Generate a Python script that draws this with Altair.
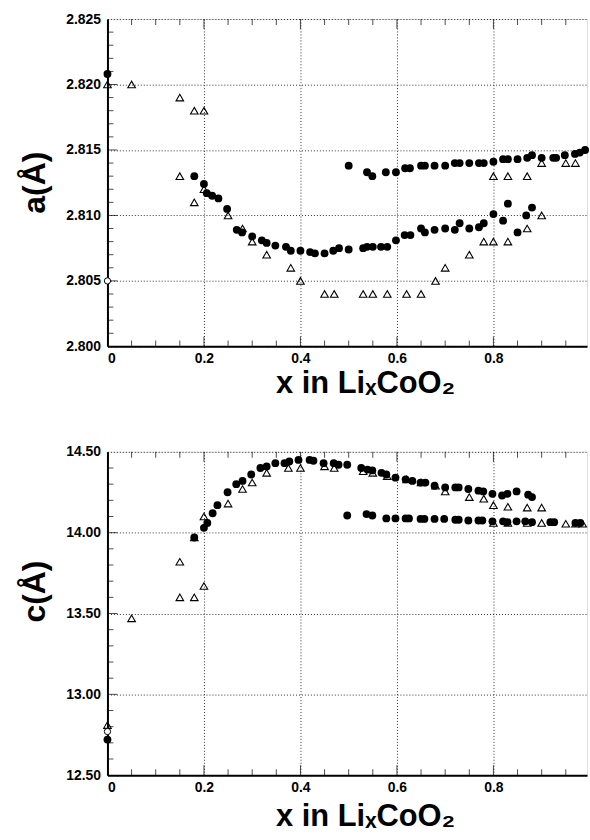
import altair as alt
import pandas as pd

# ---------------- data: a(Å) panel ----------------
a_circ_x = [0.0, 0.18, 0.20, 0.206, 0.217, 0.23, 0.248, 0.268, 0.279, 0.30, 0.32, 0.33, 0.348,
            0.37, 0.38, 0.40, 0.42, 0.43, 0.45, 0.468, 0.48, 0.50, 0.53, 0.538, 0.55, 0.567, 0.58,
            0.598, 0.616, 0.628, 0.65, 0.658, 0.678, 0.70, 0.72, 0.73, 0.75, 0.77, 0.78, 0.80,
            0.82, 0.83, 0.85, 0.868, 0.88,
            0.50, 0.538, 0.549, 0.577, 0.598, 0.617, 0.627, 0.65, 0.658, 0.678, 0.70, 0.72, 0.73,
            0.75, 0.77, 0.78, 0.80, 0.82, 0.83, 0.85, 0.87, 0.88, 0.90, 0.924, 0.93, 0.948, 0.969,
            0.979, 0.99]
a_circ_y = [2.8208, 2.8130, 2.8124, 2.8117, 2.8115, 2.8113, 2.8105, 2.8089, 2.8087, 2.8084,
            2.8081, 2.8079, 2.8077, 2.8076, 2.8073, 2.8073, 2.8072, 2.8071, 2.8071, 2.8073,
            2.8075, 2.8074, 2.8075, 2.8076, 2.8076, 2.8076, 2.8076, 2.8081, 2.8085, 2.8085,
            2.8090, 2.8087, 2.8089, 2.8090, 2.8089, 2.8094, 2.8090, 2.8091, 2.8094, 2.8101,
            2.8096, 2.8109, 2.8087, 2.8100, 2.8106,
            2.8138, 2.8133, 2.8130, 2.8133, 2.8133, 2.8136, 2.8136, 2.8138, 2.8138, 2.8138,
            2.8138, 2.8140, 2.8140, 2.8140, 2.8140, 2.8140, 2.8141, 2.8143, 2.8143, 2.8143,
            2.8144, 2.8146, 2.8144, 2.8144, 2.8144, 2.8146, 2.8147, 2.8148, 2.8150]
a_tri_x = [0.0, 0.05, 0.15, 0.18, 0.20, 0.15, 0.18, 0.20, 0.25, 0.28, 0.30, 0.33, 0.38, 0.40,
           0.45, 0.47, 0.53, 0.55, 0.58, 0.62, 0.65, 0.68, 0.70, 0.75, 0.78, 0.80, 0.83, 0.87,
           0.90, 0.80, 0.83, 0.87, 0.90, 0.95, 0.97]
a_tri_y = [2.820, 2.820, 2.819, 2.818, 2.818, 2.813, 2.811, 2.812, 2.810, 2.809, 2.808, 2.807,
           2.806, 2.805, 2.804, 2.804, 2.804, 2.804, 2.804, 2.804, 2.804, 2.805, 2.806, 2.807,
           2.808, 2.808, 2.808, 2.809, 2.810, 2.813, 2.813, 2.813, 2.814, 2.814, 2.814]
a_open_x = [0.0]
a_open_y = [2.805]

# ---------------- data: c(Å) panel ----------------
c_circ_x = [0.0, 0.18, 0.20, 0.207, 0.218, 0.228, 0.249, 0.267, 0.28, 0.298, 0.317, 0.33, 0.348,
            0.367, 0.377, 0.396, 0.419, 0.427, 0.448, 0.469, 0.479, 0.497, 0.526, 0.539, 0.549,
            0.568, 0.578, 0.597, 0.618, 0.632, 0.649, 0.659, 0.678, 0.70, 0.721, 0.728, 0.748,
            0.769, 0.779, 0.798, 0.818, 0.829, 0.848, 0.872, 0.88,
            0.497, 0.537, 0.549, 0.578, 0.597, 0.618, 0.625, 0.649, 0.657, 0.678, 0.698, 0.721,
            0.728, 0.748, 0.769, 0.777, 0.798, 0.82, 0.829, 0.848, 0.866, 0.88, 0.918, 0.926,
            0.97, 0.98]
c_circ_y = [12.72, 13.97, 14.03, 14.06, 14.12, 14.17, 14.25, 14.30, 14.32, 14.36, 14.40, 14.41,
            14.43, 14.43, 14.44, 14.45, 14.45, 14.445, 14.43, 14.43, 14.42, 14.42, 14.40, 14.39,
            14.385, 14.37, 14.36, 14.34, 14.33, 14.32, 14.31, 14.31, 14.29, 14.28, 14.28, 14.28,
            14.27, 14.26, 14.255, 14.24, 14.23, 14.24, 14.255, 14.235, 14.22,
            14.106, 14.115, 14.106, 14.088, 14.088, 14.088, 14.088, 14.085, 14.085, 14.085,
            14.085, 14.08, 14.08, 14.075, 14.075, 14.075, 14.07, 14.07, 14.065, 14.07, 14.07,
            14.065, 14.065, 14.065, 14.06, 14.06]
c_tri_x = [0.0, 0.05, 0.15, 0.15, 0.18, 0.20, 0.18, 0.20, 0.25, 0.28, 0.30, 0.33, 0.375, 0.40,
           0.45, 0.47, 0.53, 0.55, 0.58, 0.62, 0.65, 0.68, 0.70, 0.75, 0.78, 0.80, 0.83, 0.87,
           0.90, 0.80, 0.83, 0.87, 0.90, 0.95, 0.97, 0.985]
c_tri_y = [12.81, 13.47, 13.82, 13.60, 13.60, 13.67, 13.97, 14.10, 14.18, 14.27, 14.31, 14.37,
           14.40, 14.40, 14.41, 14.40, 14.38, 14.37, 14.35, 14.33, 14.31, 14.29, 14.255, 14.22,
           14.21, 14.17, 14.16, 14.155, 14.155, 14.06, 14.06, 14.06, 14.06, 14.055, 14.055,
           14.055]
c_open_x = [0.0]
c_open_y = [12.77]

# ---------------- axis ticks ----------------
x_major = [0.0, 0.2, 0.4, 0.6, 0.8]
x_minor = [0.05, 0.1, 0.15, 0.25, 0.3, 0.35, 0.45, 0.5, 0.55, 0.65, 0.7, 0.75, 0.85, 0.9, 0.95]
a_major = [2.800, 2.805, 2.810, 2.815, 2.820, 2.825]
a_minor = [2.801, 2.802, 2.803, 2.804, 2.806, 2.807, 2.808, 2.809, 2.811, 2.812, 2.813, 2.814,
           2.816, 2.817, 2.818, 2.819, 2.821, 2.822, 2.823, 2.824]
c_major = [12.5, 13.0, 13.5, 14.0, 14.5]
c_minor = [12.6, 12.7, 12.8, 12.9, 13.1, 13.2, 13.3, 13.4, 13.6, 13.7, 13.8, 13.9, 14.1, 14.2,
           14.3, 14.4]

FONT = "Liberation Sans"


def panel(cx, cy, tx, ty, ox, oy, ymajor, yminor, ydom, yfmt, ytitle, W, H, xmax,
          ytitle_y, xtitle_x, xtitle_y):
    xs = alt.Scale(domain=[0, xmax], nice=False, zero=False)
    ys = alt.Scale(domain=ydom, nice=False, zero=False)
    xaxis = alt.Axis(values=x_major, title="x in LiₓCoO₂",
                     labelExpr="datum.value == 0 ? '0' : format(datum.value, '.1f')",
                     grid=True, gridDash=[1, 2], gridColor="#333", gridWidth=1,
                     domainColor="black", domainWidth=2, ticks=False,
                     labelFont=FONT, labelFontWeight="bold", labelFontSize=14,
                     labelPadding=5, labelColor="black",
                     titleFont=FONT, titleFontWeight="bold", titleFontSize=31,
                     titleColor="black", titleX=xtitle_x, titleY=xtitle_y,
                     titleBaseline="alphabetic")
    yaxis = alt.Axis(values=ymajor, format=yfmt, title=ytitle,
                     grid=True, gridDash=[1, 2], gridColor="#333", gridWidth=1,
                     domainColor="black", domainWidth=2, ticks=False,
                     labelFont=FONT, labelFontWeight="bold", labelFontSize=14,
                     labelPadding=7, labelColor="black",
                     titleFont=FONT, titleFontWeight="bold", titleFontSize=32,
                     titleColor="black", titleY=ytitle_y, titlePadding=14)

    circ = pd.DataFrame({"x": cx, "y": cy})
    tri = pd.DataFrame({"x": tx, "y": ty})
    opn = pd.DataFrame({"x": ox, "y": oy})

    base_c = alt.Chart(circ).mark_point(shape="circle", filled=True, color="black",
                                         size=62, opacity=1).encode(
        x=alt.X("x:Q", scale=xs, axis=xaxis),
        y=alt.Y("y:Q", scale=ys, axis=yaxis))
    base_t = alt.Chart(tri).mark_point(shape="triangle-up", filled=False, stroke="black",
                                        strokeWidth=1.1, size=58, opacity=1).encode(
        x=alt.X("x:Q", scale=xs), y=alt.Y("y:Q", scale=ys))
    base_o = alt.Chart(opn).mark_point(shape="circle", filled=True, fill="white",
                                        stroke="black", strokeWidth=1, size=40,
                                        opacity=1).encode(
        x=alt.X("x:Q", scale=xs), y=alt.Y("y:Q", scale=ys))

    xm = pd.DataFrame({"x": x_minor})
    xM = pd.DataFrame({"x": x_major[1:]})
    ym = pd.DataFrame({"y": yminor})
    yM = pd.DataFrame({"y": ymajor[1:-1]})
    tk_bot = alt.Chart(xm).mark_tick(orient="vertical", color="black", size=6,
                                     thickness=1).encode(
        x=alt.X("x:Q", scale=xs), y=alt.value(H - 3))
    tk_top = alt.Chart(xm).mark_tick(orient="vertical", color="black", size=6,
                                     thickness=1).encode(
        x=alt.X("x:Q", scale=xs), y=alt.value(3))
    tk_botM = alt.Chart(xM).mark_tick(orient="vertical", color="black", size=10,
                                      thickness=1).encode(
        x=alt.X("x:Q", scale=xs), y=alt.value(H - 5))
    tk_topM = alt.Chart(xM).mark_tick(orient="vertical", color="black", size=10,
                                      thickness=1).encode(
        x=alt.X("x:Q", scale=xs), y=alt.value(5))
    tk_left = alt.Chart(ym).mark_tick(orient="horizontal", color="black", size=6,
                                      thickness=1).encode(
        y=alt.Y("y:Q", scale=ys), x=alt.value(3))
    tk_leftM = alt.Chart(yM).mark_tick(orient="horizontal", color="black", size=10,
                                       thickness=1).encode(
        y=alt.Y("y:Q", scale=ys), x=alt.value(5))

    return alt.layer(tk_bot, tk_top, tk_botM, tk_topM, tk_left, tk_leftM,
                     base_c, base_t, base_o).properties(width=W, height=H)


top = panel(a_circ_x, a_circ_y, a_tri_x, a_tri_y, a_open_x, a_open_y,
            a_major, a_minor, [2.800, 2.825], ".3f", "a(Å)", 482, 329, 0.994,
            164, 259, 46)
bot = panel(c_circ_x, c_circ_y, c_tri_x, c_tri_y, c_open_x, c_open_y,
            c_major, c_minor, [12.5, 14.5], ".2f", "c(Å)", 482, 325, 0.994,
            140, 259, 51)

chart = alt.vconcat(top, bot, spacing=106, bounds="flush").properties(
    padding={"left": 18, "top": 9, "right": 0, "bottom": 0}
).configure_view(stroke="black", strokeWidth=2).configure(background="white")

chart.save("out.html", embed_options={"renderer": "svg", "actions": False})
